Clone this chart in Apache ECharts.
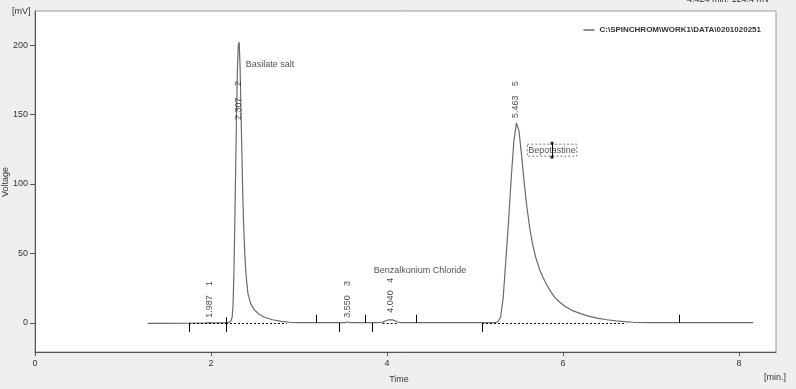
<!DOCTYPE html>
<html><head><meta charset="utf-8">
<script src="https://cdn.jsdelivr.net/npm/echarts@6/dist/echarts.min.js"></script>
<style>html,body{margin:0;padding:0;background:#efefef}#c{width:796px;height:389px}</style>
</head><body><div id="c"></div>
<script>
// ---- data ----
const seriesName = 'C:\\SPINCHROM\\WORK1\\DATA\\0201020251';
const times = [1.28,1.5,1.75,1.95,1.987,2.02,2.17,2.2,2.225,2.24,2.25,2.26,2.27,2.28,2.29,2.30,2.31,2.32,2.33,2.34,2.35,2.36,2.37,2.385,2.40,2.42,2.45,2.49,2.54,2.60,2.70,2.80,2.90,3.0,3.2,3.45,3.52,3.55,3.58,3.7,3.9,3.95,3.99,4.02,4.04,4.06,4.09,4.12,4.16,4.4,4.8,5.1,5.22,5.26,5.29,5.32,5.35,5.38,5.41,5.44,5.47,5.50,5.53,5.56,5.59,5.62,5.65,5.69,5.73,5.77,5.81,5.86,5.91,5.96,6.02,6.1,6.2,6.3,6.4,6.5,6.6,6.7,6.8,7.0,7.5,8.16];
const signal = [-0.4,-0.4,-0.3,-0.1,0.2,0,0,0.3,1,4,12,35,70,110,150,182,200,202,185,155,125,95,72,48,33,21,14,9.5,6.5,4.2,2.2,1,0.4,0.2,0.1,0.1,0.2,0.6,0.2,0.1,0.1,0.5,1.5,2.2,2.4,2.2,1.4,0.6,0.2,0.1,0.1,0.1,0.2,0.8,4,18,45,72,103,130,144,138,120,100,83,69,58,47,39,33,28,22.5,18,15,12,9,6.6,4.6,3.2,2.2,1.4,0.8,0.4,0.2,0.1,0.1];
const xTicks = [0,2,4,6,8];
const yTicks = [0,50,100,150,200];
const peakTimes = [1.987,2.307,3.550,4.040,5.463];
const peakTimeText = ['1.987','2.307','3.550','4.040','5.463'];
const peakNumbers = ['1','2','3','4','5'];
const peakTimeLabelY = [3.6,146,3.6,7.2,147.5];
const peakNumberLabelY = [26.6,170.5,26.6,28.8,170.5];
const eventUp = [3.19,3.75,4.33,7.32];
const eventDown = [1.75,3.45,3.83,5.08];
const eventCross = [2.17];
const baselineStart = [1.75,2.17,3.95,5.08];
const baselineEnd = [2.17,2.86,4.12,6.72];
const compoundNames = ['Basilate salt','Benzalkonium Chloride','Bepotastine'];
const compoundX = [2.395,3.85,5.875];
const compoundY = [186,38,124.3];
const cursorText = '4.424 min. 124.4 mV';

// ---- chart ----
const font = '"Liberation Sans", Arial, sans-serif';
const chart = echarts.init(document.getElementById('c'));
const tickData = []
  .concat(eventUp.map(t => [t, 0, 5.8]))
  .concat(eventDown.map(t => [t, 0, -6.5]))
  .concat(eventCross.map(t => [t, -6.5, 4]))
  .concat([[compoundX[2], 119.3, 129.3]]);
const labelStyle = {show: true, position: 'inside', rotate: 90, align: 'left', verticalAlign: 'middle', fontSize: 9, color: '#222', fontFamily: font};
const option = {
  backgroundColor: '#efefef',
  animation: false,
  textStyle: {fontFamily: font},
  grid: {left: 35, right: 20, top: 11, bottom: 37, show: true, backgroundColor: '#ffffff', borderColor: '#999', borderWidth: 1},
  legend: {right: 30, top: 21, itemWidth: 11, itemHeight: 1.5, itemGap: 5, icon: 'rect',
    data: [seriesName], textStyle: {fontSize: 8, fontWeight: 'bold', color: '#333', fontFamily: font}},
  xAxis: {type: 'value', min: 0, max: 8.42,
    axisLine: {show: true, onZero: false, lineStyle: {color: '#555'}},
    axisTick: {show: true, customValues: xTicks, length: 4, lineStyle: {color: '#555'}},
    axisLabel: {customValues: xTicks, fontSize: 9, color: '#333', margin: 7},
    splitLine: {show: false}},
  yAxis: {type: 'value', min: -21, max: 224.5,
    axisLine: {show: true, onZero: false, lineStyle: {color: '#555'}},
    axisTick: {show: true, customValues: yTicks, length: 5, lineStyle: {color: '#555'}},
    axisLabel: {customValues: yTicks, fontSize: 9, color: '#333', margin: 7},
    splitLine: {show: false}},
  graphic: [
    {type: 'text', left: 12, top: 7, style: {text: '[mV]', fontSize: 9, fill: '#333', fontFamily: font}},
    {type: 'text', left: 764, top: 373, style: {text: '[min.]', fontSize: 9, fill: '#333', fontFamily: font}},
    {type: 'text', x: 399, y: 380, style: {text: 'Time', fontSize: 9, fill: '#333', fontFamily: font, align: 'center', verticalAlign: 'middle'}},
    {type: 'text', x: 6, y: 182, rotation: Math.PI / 2, style: {text: 'Voltage', fontSize: 9, fill: '#333', fontFamily: font, align: 'center', verticalAlign: 'middle'}},
    {type: 'text', right: 26, top: -5, style: {text: cursorText, fontSize: 9, fill: '#333', fontFamily: font}}
  ],
  series: [
    {name: seriesName, type: 'line', symbol: 'none', z: 3, color: '#6a6a6a',
      data: times.map((t, i) => [t, signal[i]]),
      itemStyle: {color: '#6a6a6a'},
      lineStyle: {color: '#6a6a6a', width: 1.2},
      markLine: {silent: true, symbol: 'none', label: {show: false}, animation: false,
        lineStyle: {color: '#000', type: [2, 2], width: 1},
        data: baselineStart.map((s, i) => [{coord: [s, 0]}, {coord: [baselineEnd[i], 0]}])}},
    {type: 'custom', z: 4, silent: true, data: tickData, encode: {x: 0, y: [1, 2]},
      renderItem: function (params, api) {
        const p1 = api.coord([api.value(0), api.value(1)]);
        const p2 = api.coord([api.value(0), api.value(2)]);
        const x = Math.round(p1[0]) + 0.5;
        return {type: 'line', shape: {x1: x, y1: p1[1], x2: x, y2: p2[1]}, style: {stroke: '#000', lineWidth: 1}};
      }},
    {type: 'scatter', z: 5, silent: true, symbolSize: 1, itemStyle: {color: 'rgba(0,0,0,0)'},
      data: peakTimes.map((t, i) => ({value: [t, peakTimeLabelY[i]], label: Object.assign({}, labelStyle, {formatter: peakTimeText[i]})}))},
    {type: 'scatter', z: 5, silent: true, symbolSize: 1, itemStyle: {color: 'rgba(0,0,0,0)'},
      data: peakTimes.map((t, i) => ({value: [t, peakNumberLabelY[i]], label: Object.assign({}, labelStyle, {formatter: peakNumbers[i]})}))},
    {type: 'scatter', z: 5, silent: true, symbolSize: 1, itemStyle: {color: 'rgba(0,0,0,0)'},
      data: compoundNames.map((n, i) => ({value: [compoundX[i], compoundY[i]],
        label: {show: true, position: 'inside', formatter: n, fontSize: 9, color: '#222', fontFamily: font,
          align: i === 2 ? 'center' : 'left', verticalAlign: 'middle',
          borderColor: i === 2 ? '#555' : 'transparent', borderWidth: i === 2 ? 1 : 0, borderType: [2, 2],
          padding: i === 2 ? [2, 1, 1, 1] : 0}}))},
    {type: 'scatter', z: 6, silent: true, symbol: 'rect', symbolSize: 3, itemStyle: {color: '#000'},
      data: [[compoundX[2], 129.3], [compoundX[2], 119.3]]}
  ]
};
chart.setOption(option);
</script></body></html>
